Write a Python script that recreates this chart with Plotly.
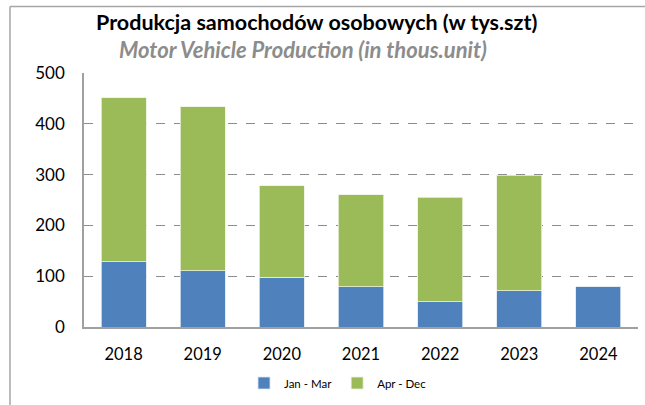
import plotly.graph_objects as go

years = ["2018", "2019", "2020", "2021", "2022", "2023", "2024"]
jan_mar = [128, 111, 98, 79, 50, 71, 79]
apr_dec = [323, 323, 180, 181, 205, 228, None]
y_ticks = [0, 100, 200, 300, 400, 500]

FONT = "Lato, Open Sans, sans-serif"
L, R, T, B = 84, 7, 73, 78
W, H = 645, 405
pw, ph = W - L - R, H - T - B

def px(x):
    return (x - L) / pw

def py(y):
    return (H - B - y) / ph

fig = go.Figure()
fig.add_trace(go.Bar(x=years, y=jan_mar, name="Jan - Mar",
                     marker=dict(color="#4F81BD", line=dict(color="#DCE6F2", width=0.8))))
fig.add_trace(go.Bar(x=years, y=apr_dec, name="Apr - Dec",
                     marker=dict(color="#9BBB59", line=dict(color="#EBF1DE", width=0.8))))

fig.update_layout(
    width=W, height=H,
    margin=dict(l=L, r=R, t=T, b=B, autoexpand=False),
    barmode="stack", bargap=0.43,
    plot_bgcolor="white", paper_bgcolor="white",
    font=dict(family=FONT, size=16, color="black"),
    showlegend=True,
    legend=dict(orientation="h", x=px(338), xanchor="center", y=py(383), yanchor="middle",
                font=dict(size=11.5, family=FONT), itemwidth=30, tracegroupgap=0,
                traceorder="normal"),
    xaxis=dict(showgrid=False, showline=True, linecolor="#A0A0A0", linewidth=1.5,
               ticks="", tickfont=dict(size=16.5), ticklabelstandoff=11),
    yaxis=dict(range=[0, 500], tickvals=y_ticks, showgrid=True, gridcolor="#8C8C8C",
               griddash="dash", gridwidth=1, showline=True, linecolor="#A0A0A0",
               linewidth=1.5, zeroline=False, ticks="", tickfont=dict(size=17),
               ticklabelstandoff=14),
    annotations=[
        dict(text="<b>Produkcja samochodów osobowych (w tys.szt)</b>", xref="paper", yref="paper",
             x=px(316), y=py(22), showarrow=False, font=dict(size=21.5, color="black", family=FONT),
             xanchor="center", yanchor="middle"),
        dict(text="<b><i>Motor Vehicle Production (in thous.unit)</i></b>", xref="paper", yref="paper",
             x=px(303), y=py(50), showarrow=False, font=dict(size=22, color="#8C8C8C", family=FONT),
             xanchor="center", yanchor="middle"),
    ],
    shapes=[
        dict(type="line", xref="paper", yref="paper", x0=px(10), x1=px(645), y0=py(6.5), y1=py(6.5),
             line=dict(color="#A6A6A6", width=1.5)),
        dict(type="line", xref="paper", yref="paper", x0=px(10), x1=px(10), y0=py(6.5), y1=py(405),
             line=dict(color="#A6A6A6", width=1.5)),
    ],
)

fig.write_html(
    "out.html",
    config={"displayModeBar": False},
    post_script=(
        "document.body.style.margin='0';"
        "document.body.style.overflow='hidden';"
        "document.documentElement.style.overflow='hidden';"
    ),
)
